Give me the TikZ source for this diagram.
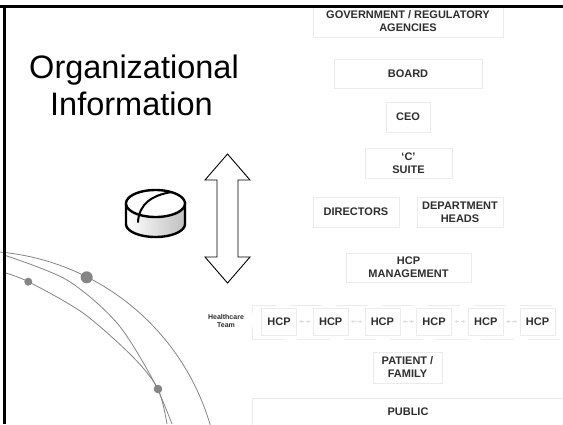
\documentclass[tikz,border=0pt]{standalone}
\usepackage{fontspec}
\setmainfont{Liberation Sans}
\usetikzlibrary{arrows.meta}
\definecolor{boxgray}{HTML}{EBEBEB}
\definecolor{linkgray}{HTML}{DDDDDD}
\definecolor{txt}{HTML}{2E2E2E}
\definecolor{arcgray}{HTML}{858585}
\tikzset{
  orgbox/.style={draw=boxgray, line width=0.8pt, inner sep=0pt, align=center,
    text=txt, font=\bfseries\fontsize{11}{13}\selectfont},
  hcpbox/.style={orgbox, minimum width=35, minimum height=27},
  hcplink/.style={draw=linkgray, line width=0.7pt, dash pattern=on 2.5pt off 1.5pt,
    {Latex[length=3pt,width=3pt]}-{Latex[length=3pt,width=3pt]}},
  arcline/.style={draw=arcgray, line width=0.8pt},
  arcdot/.style={fill=arcgray},
  bigtitle/.style={font=\fontsize{32.5}{37}\selectfont, text=black, inner sep=0pt, anchor=base},
}
\begin{document}
\begin{tikzpicture}[x=1pt,y=-1pt]
\useasboundingbox (0,0) rectangle (563,424);
\fill[white] (0,0) rectangle (563,424);

% title
\node[bigtitle] (org) at (134,78.3) {Organizational};
\node[bigtitle] (info) at (131.5,115) {Information};

% hierarchy boxes
\node[orgbox, minimum width=190, minimum height=31] (gov) at (408,21.5) {GOVERNMENT / REGULATORY\\AGENCIES};
\node[orgbox, minimum width=148, minimum height=29] (board) at (408,73.5) {BOARD};
\node[orgbox, minimum width=44, minimum height=30] (ceo) at (408,117) {CEO};
\node[orgbox, minimum width=87, minimum height=30] (csuite) at (408.5,163) {‘C’\\SUITE};
\node[orgbox, minimum width=86, minimum height=30] (dir) at (356,212) {DIRECTORS};
\node[orgbox, minimum width=86, minimum height=30] (dept) at (460,212) {DEPARTMENT\\HEADS};
\node[orgbox, minimum width=125, minimum height=29] (hcpm) at (408.5,267.5) {HCP\\MANAGEMENT};

% healthcare team row
\node[text=txt, font=\bfseries\fontsize{7}{8}\selectfont, align=center, inner sep=0pt] (team) at (226,321) {Healthcare\\Team};
\node[draw=boxgray, line width=0.8pt, dash pattern=on 32pt off 14pt, dash phase=0pt, anchor=north west,
      minimum width=340, minimum height=34, inner sep=0pt] (row) at (252,305) {};
\foreach \i in {1,...,6}{
  \node[hcpbox] (h\i) at ({279+51.7*(\i-1)},321.5) {HCP};
}
\foreach \a/\b in {1/2,2/3,3/4,4/5,5/6}{
  \draw[hcplink] ([xshift=2pt]h\a.east) -- ([xshift=-2pt]h\b.west);
}
\node[orgbox, minimum width=69, minimum height=31] (patient) at (407.5,367.5) {PATIENT /\\FAMILY};
\node[draw=boxgray, line width=0.8pt, anchor=north west, minimum width=340, minimum height=40, inner sep=0pt] (public) at (252,398) {};
\node[text=txt, font=\bfseries\fontsize{11}{13}\selectfont, inner sep=0pt] (publictxt) at (408,412) {PUBLIC};

% double arrow
\draw[line width=0.9pt, fill=white] (227.5,154) -- (250,180) -- (238,180) -- (238,257) -- (250,257)
  -- (227.5,283) -- (205,257) -- (217,257) -- (217,180) -- (205,180) -- cycle;

% pill
\shade[left color=white, right color=gray!50] (126,203.5)
  -- plot[domain=180:0, samples=40] ({155.5+29.5*cos(\x)},{224+13*sin(\x)}) -- (185,203.5) -- cycle;
\fill[white] plot[domain=0:360, samples=60] ({155.5+29.5*cos(\x)},{203.5+13.5*sin(\x)});
\draw[line width=2.4pt, line join=round] (126,203.5) -- (126,224)
  plot[domain=180:0, samples=40] ({155.5+29.5*cos(\x)},{224+13*sin(\x)}) -- (185,203.5);
\draw[line width=2.4pt] plot[domain=0:360, samples=60] ({155.5+29.5*cos(\x)},{203.5+13.5*sin(\x)}) -- cycle;
\draw[line width=2pt, line cap=round] (138,222) .. controls (139,204) and (152,195) .. (172,192);

% arcs
\draw[arcline] plot[domain=-85.5:-16.3, samples=60] ({-22+242*cos(\x)},{493+242*sin(\x)});
\draw[arcline] plot[smooth] coordinates {(4,255) (67,280) (117,323) (153,380) (172,424)};
\draw[arcline] plot[smooth] coordinates {(4,272.5) (28.3,281.7) (83,313) (133,357) (158,389) (167,424)};
\fill[arcdot] (86.7,277.3) circle[radius=6pt];
\fill[arcdot] (28.3,281.7) circle[radius=4pt];
\fill[arcdot] (158,389) circle[radius=4.3pt];

% frame
\draw[line width=2.5pt] (0,6.5) -- (563,6.5);
\draw[line width=2.5pt] (4.7,5.3) -- (4.7,424);
\end{tikzpicture}
\end{document}
